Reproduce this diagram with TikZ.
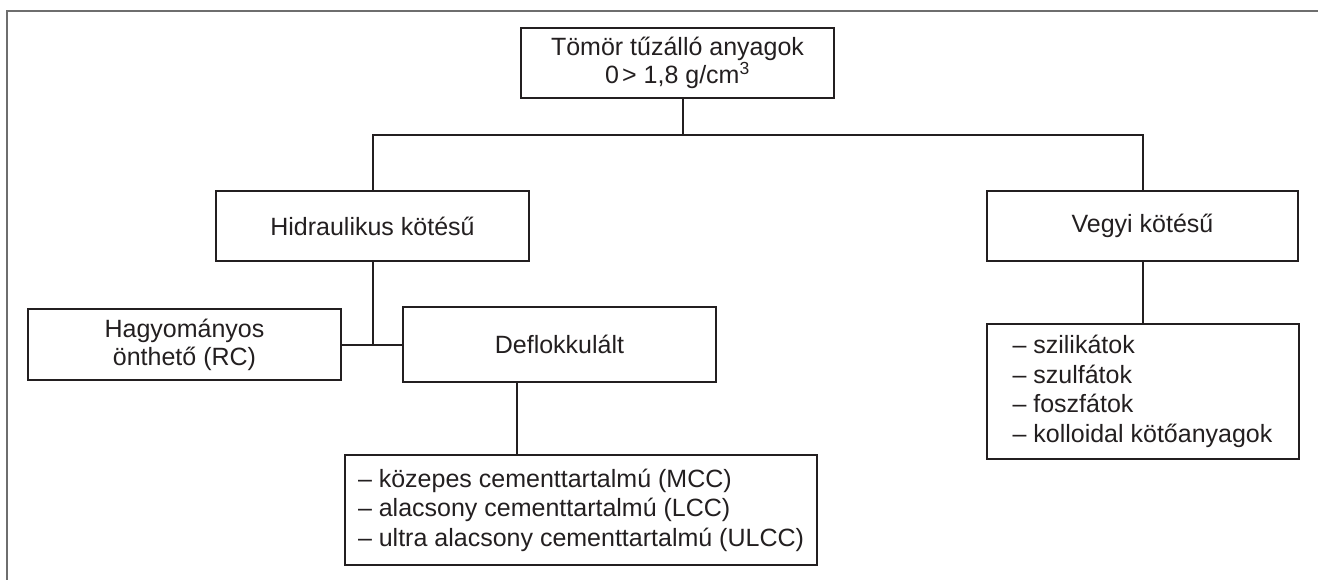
\documentclass[tikz,border=0pt]{standalone}
\usepackage{fontspec}
\setmainfont{Liberation Sans}
\definecolor{ink}{HTML}{231F20}
\definecolor{framegray}{HTML}{6E6E6E}
\begin{document}
\begin{tikzpicture}[x=1pt,y=-1pt,
  box/.style={draw=ink, line width=2pt, rectangle, inner sep=0pt, align=center,
    text=ink, font=\fontsize{25}{28}\selectfont},
  listbox/.style={box, align=left, font=\fontsize{25}{29.5}\selectfont},
  conn/.style={draw=ink, line width=2pt, line join=miter},
  frame/.style={draw=framegray, line width=2.5pt}]
\useasboundingbox (0,0) rectangle (1318,580);
\draw[frame] (7,580) -- (7,11) -- (1318,11);

\node[box, minimum width=313, minimum height=70] (top) at (677.5,63)
  {Tömör tűzálló anyagok\\0\kern3pt> 1,8 g/cm\textsuperscript{3}};
\node[box, minimum width=313, minimum height=70] (hidr) at (372.5,226)
  {Hidraulikus kötésű};
\node[box, minimum width=311, minimum height=70] (vegyi) at (1142.5,226)
  {Vegyi kötésű};
\node[box, minimum width=313, minimum height=71] (hagy) at (184.5,344.5)
  {Hagyományos\\önthető (RC)};
\node[box, minimum width=313, minimum height=75] (defl) at (559.5,344.5)
  {Deflokkulált};
\node[listbox, minimum width=472, minimum height=110] (mcc) at (581,510)
  {– közepes cementtartalmú (MCC)\\– alacsony cementtartalmú (LCC)\\– ultra alacsony cementtartalmú (ULCC)};
\node[listbox, minimum width=312, minimum height=135] (szil) at (1142.5,391.5)
  {– szilikátok\\– szulfátok\\– foszfátok\\– kolloidal kötőanyagok};

\coordinate (bar) at (683,135);
\coordinate (dv) at (517,0);
\draw[conn] (bar |- top.south) -- (bar);
\draw[conn] (hidr.north) -- (hidr.north |- bar) -- (vegyi.north |- bar) -- (vegyi.north);
\draw[conn] (hidr.south) -- (hidr.south |- hagy.east);
\draw[conn] (hagy.east) -- (defl.west);
\draw[conn] (dv |- defl.south) -- (dv |- mcc.north);
\draw[conn] (vegyi.south) -- (szil.north);
\end{tikzpicture}
\end{document}
